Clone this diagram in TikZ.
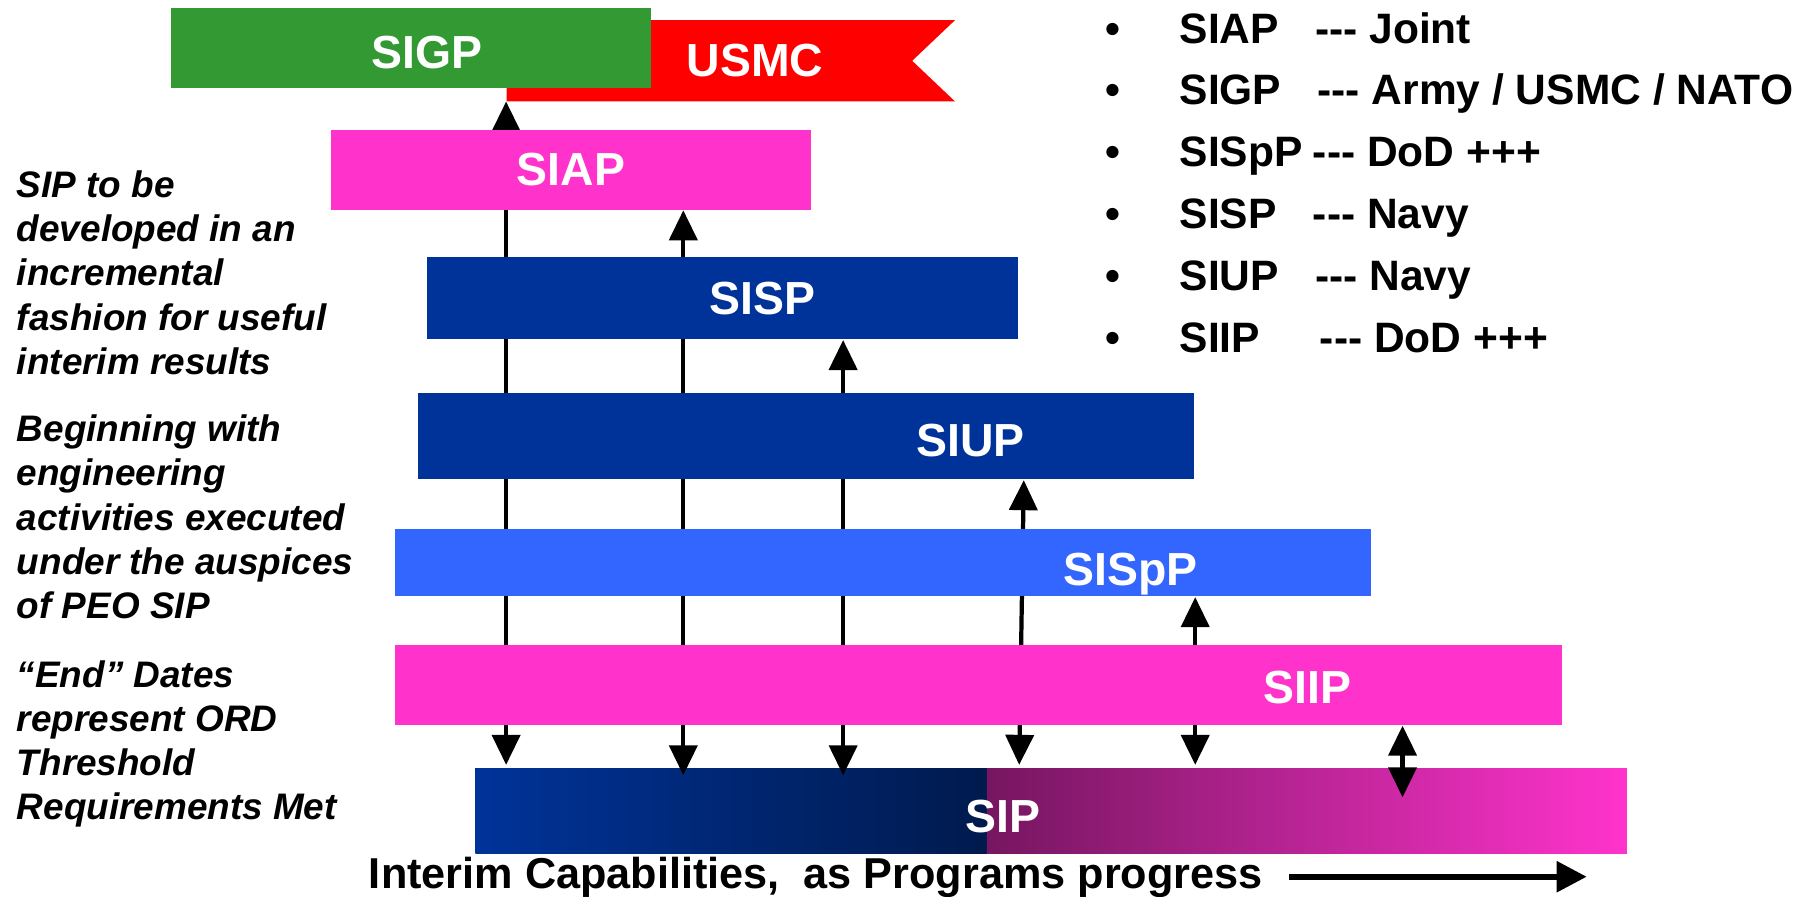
\documentclass[tikz,border=0pt]{standalone}
\usepackage{fontspec}
\setmainfont{Liberation Sans}
\usetikzlibrary{arrows.meta, fit, calc, backgrounds}

\definecolor{sipgreen}{HTML}{339933}
\definecolor{sippink}{HTML}{FF33CC}
\definecolor{sipnavy}{HTML}{003399}
\definecolor{sipsky}{HTML}{3366FF}
\definecolor{sipdark}{HTML}{001A4D}
\definecolor{sipplum}{HTML}{761660}

\newcommand{\dashrun}{-\kern0pt-\kern0pt-}

\tikzset{
  bar/.style={rectangle, inner sep=0pt, draw=none},
  barlabel/.style={text=white, font=\fontsize{13.2pt}{15pt}\selectfont\bfseries, inner sep=0pt, anchor=base},
  keytext/.style={font=\fontsize{12.1pt}{14pt}\selectfont\bfseries, inner sep=0pt, anchor=base west},
  note/.style={font=\fontsize{10.5pt}{12.6pt}\selectfont\bfseries\itshape, inner sep=0pt, anchor=north west, align=left},
  link/.style={line width=1.2pt, {Triangle[length=0.3cm,width=0.28cm]}-{Triangle[length=0.3cm,width=0.28cm]}},
}

\begin{document}
\begin{tikzpicture}[x=0.011582cm, y=-0.011582cm]
\useasboundingbox (0,0) rectangle (1568,774);

% bars, from the top
\node[bar, fit={(438,18) (824,87)}] (usmc) {};
\fill[red] (usmc.north west) -- (usmc.north east) -- ($(usmc.east)+(-37,0)$) -- (usmc.south east) -- (usmc.south west) -- cycle;
\node[bar, fill=sipgreen, fit={(148,7) (562,76)}] (sigp) {};
\node[bar, fill=sippink, fit={(286,112) (700,181)}] (siap) {};
\node[bar, fill=sipnavy, fit={(369,222) (879,293)}] (sisp) {};
\node[bar, fill=sipnavy, fit={(361,339) (1031,414)}] (siup) {};
\node[bar, fill=sipsky, fit={(341,457) (1184,515)}] (sispp) {};
\node[bar, fill=sippink, fit={(341,557) (1349,626)}] (siip) {};
\node[bar, fit={(411,664) (1404,736)}] (sip) {};

\coordinate (sipmid) at (852,0);
\coordinate (l1) at (437,0);
\coordinate (l2) at (590,0);
\coordinate (l3) at (728,0);
\coordinate (l4t) at (884,0);
\coordinate (l4b) at (880,0);
\coordinate (l5) at (1032,0);
\coordinate (l6) at (1211,0);

\begin{pgfonlayer}{background}
  \fill[left color=sipnavy, right color=sipdark] (sip.north west) rectangle (sip.south -| sipmid);
  \fill[left color=sipplum, right color=sippink] (sip.north -| sipmid) rectangle (sip.south east);
  % links between the programs
  \draw[link] (l1 |- usmc.south) -- ($(l1 |- sip.north)+(0,-3)$);
  \draw[link] (l2 |- siap.south) -- ($(l2 |- sip.north)+(0,6)$);
  \draw[link] (l3 |- sisp.south) -- ($(l3 |- sip.north)+(0,6)$);
  \draw[link] (l4t |- siup.south) -- ($(l4b |- sip.north)+(0,-3)$);
  \draw[link] (l5 |- sispp.south) -- ($(l5 |- sip.north)+(0,-3)$);
  \draw[link] (l6 |- siip.south) -- ($(l6 |- sip.north)+(0,25)$);
\end{pgfonlayer}

% bar labels
\node[barlabel] (sigp-t) at (369,59.4) {SIGP};
\node[barlabel] (usmc-t) at (652,65.8) {USMC};
\node[barlabel] (siap-t) at (493,160.4) {SIAP};
\node[barlabel] (sisp-t) at (658,271.4) {SISP};
\node[barlabel] (siup-t) at (838,394.4) {SIUP};
\node[barlabel] (sispp-t) at (976,505.4) {SISpP};
\node[barlabel] (siip-t) at (1129,607.4) {SIIP};
\node[barlabel] (sip-t) at (866,718.4) {SIP};

% key
\node[keytext, anchor=base] (b1) at (961,37.2) {\textbullet};
\node[keytext, anchor=base] (b2) at (961,90.6) {\textbullet};
\node[keytext, anchor=base] (b3) at (961,144) {\textbullet};
\node[keytext, anchor=base] (b4) at (961,197.4) {\textbullet};
\node[keytext, anchor=base] (b5) at (961,250.8) {\textbullet};
\node[keytext, anchor=base] (b6) at (961,304.2) {\textbullet};
\node[keytext] (k1) at (1018,37.2) {SIAP};
\node[keytext] (k2) at (1018,90.6) {SIGP};
\node[keytext] (k3) at (1018,144) {SISpP};
\node[keytext] (k4) at (1018,197.4) {SISP};
\node[keytext] (k5) at (1018,250.8) {SIUP};
\node[keytext] (k6) at (1018,304.2) {SIIP};
\node[keytext] (d1) at (1135,37.2) {\dashrun{} Joint};
\node[keytext] (d2) at (1137,90.6) {\dashrun{} Army / USMC / NATO};
\node[keytext] (d3) at (1133,144) {\dashrun{} DoD +++};
\node[keytext] (d4) at (1133,197.4) {\dashrun{} Navy};
\node[keytext] (d5) at (1135,250.8) {\dashrun{} Navy};
\node[keytext] (d6) at (1139,304.2) {\dashrun{} DoD +++};

% notes on the left
\node[note] (note1) at (14,146.6) {SIP to be\\developed in an\\incremental\\fashion for useful\\interim results};
\node[note] (note2) at (14,357.6) {Beginning with\\engineering\\activities executed\\under the auspices\\of PEO SIP};
\node[note] (note3) at (14,569.6) {“End” Dates\\represent ORD\\Threshold\\Requirements Met};

% progress line
\node[keytext, font=\fontsize{12.3pt}{14pt}\selectfont\bfseries] (progress) at (318,767) {Interim Capabilities,\ \ as Programs progress};
\coordinate (progress-a) at (1113,757);
\coordinate (progress-b) at (1370,757);
\draw[line width=1.6pt, -{Triangle[length=0.3cm,width=0.3cm]}] (progress-a) -- (progress-b);

\end{tikzpicture}
\end{document}
